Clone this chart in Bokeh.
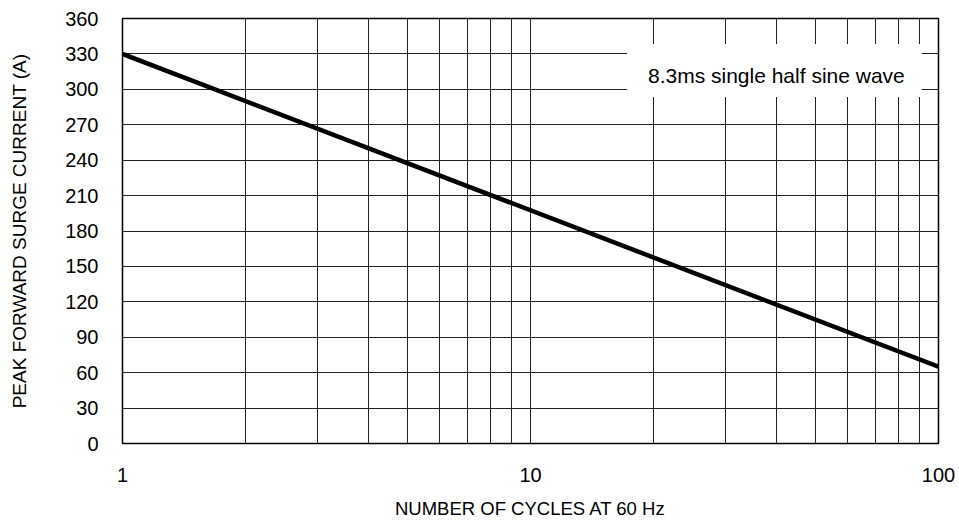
from bokeh.plotting import figure
from bokeh.models import Range1d, FixedTicker, Label
from bokeh.embed import file_html
from bokeh.resources import INLINE

# data
cycles = [1, 100]
surge_current = [330, 65]
y_ticks = [0, 30, 60, 90, 120, 150, 180, 210, 240, 270, 300, 330, 360]
x_major = [1, 10, 100]
x_minor = [1, 2, 3, 4, 5, 6, 7, 8, 9, 10, 20, 30, 40, 50, 60, 70, 80, 90, 100]
note_text = "8.3ms single half sine wave"
note_x = 39.6
note_y = 316

FONT = "Liberation Sans"

p = figure(width=959, height=521, x_axis_type="log",
           x_range=Range1d(1, 100), y_range=Range1d(0, 360),
           output_backend="svg", toolbar_location=None,
           min_border_left=122, min_border_right=21,
           min_border_top=18, min_border_bottom=78)

p.line(cycles, surge_current, line_color="black", line_width=4.5)

p.xaxis.ticker = FixedTicker(ticks=x_major, minor_ticks=x_minor)
p.yaxis.ticker = FixedTicker(ticks=y_ticks)
p.xaxis.major_label_overrides = {1: "1", 10: "10", 100: "100"}

for ax in (p.xaxis, p.yaxis):
    ax.axis_line_color = None
    ax.major_tick_line_color = None
    ax.minor_tick_line_color = None
    ax.major_label_text_font = FONT
    ax.major_label_text_font_size = "20px"
    ax.major_label_text_color = "black"
    ax.axis_label_text_font = FONT
    ax.axis_label_text_font_style = "normal"
    ax.axis_label_text_color = "black"

p.xaxis.axis_label = "NUMBER OF CYCLES AT 60 Hz"
p.yaxis.axis_label = "PEAK FORWARD SURGE CURRENT (A)"
p.xaxis.axis_label_text_font_size = "18.5px"
p.yaxis.axis_label_text_font_size = "19px"
p.xaxis.major_label_standoff = 18
p.xaxis.axis_label_standoff = 13
p.yaxis.major_label_standoff = 18
p.yaxis.axis_label_standoff = 32

p.xgrid.grid_line_color = "#222222"
p.xgrid.minor_grid_line_color = "#222222"
p.xgrid.grid_line_width = 1
p.xgrid.minor_grid_line_width = 1
p.ygrid.grid_line_color = "#222222"
p.ygrid.grid_line_width = 1

p.outline_line_color = "black"
p.outline_line_width = 1.5
p.background_fill_color = "white"
p.border_fill_color = "white"

# padding given as (left, right, top, bottom)
note = Label(x=note_x, y=note_y, text=note_text,
             text_align="center", text_baseline="middle",
             text_font=FONT, text_font_size="21px", text_color="black",
             background_fill_color="white",
             padding=(21, 17, 20, 10))
p.add_layout(note)

open("out.html", "w").write(file_html(p, INLINE))
